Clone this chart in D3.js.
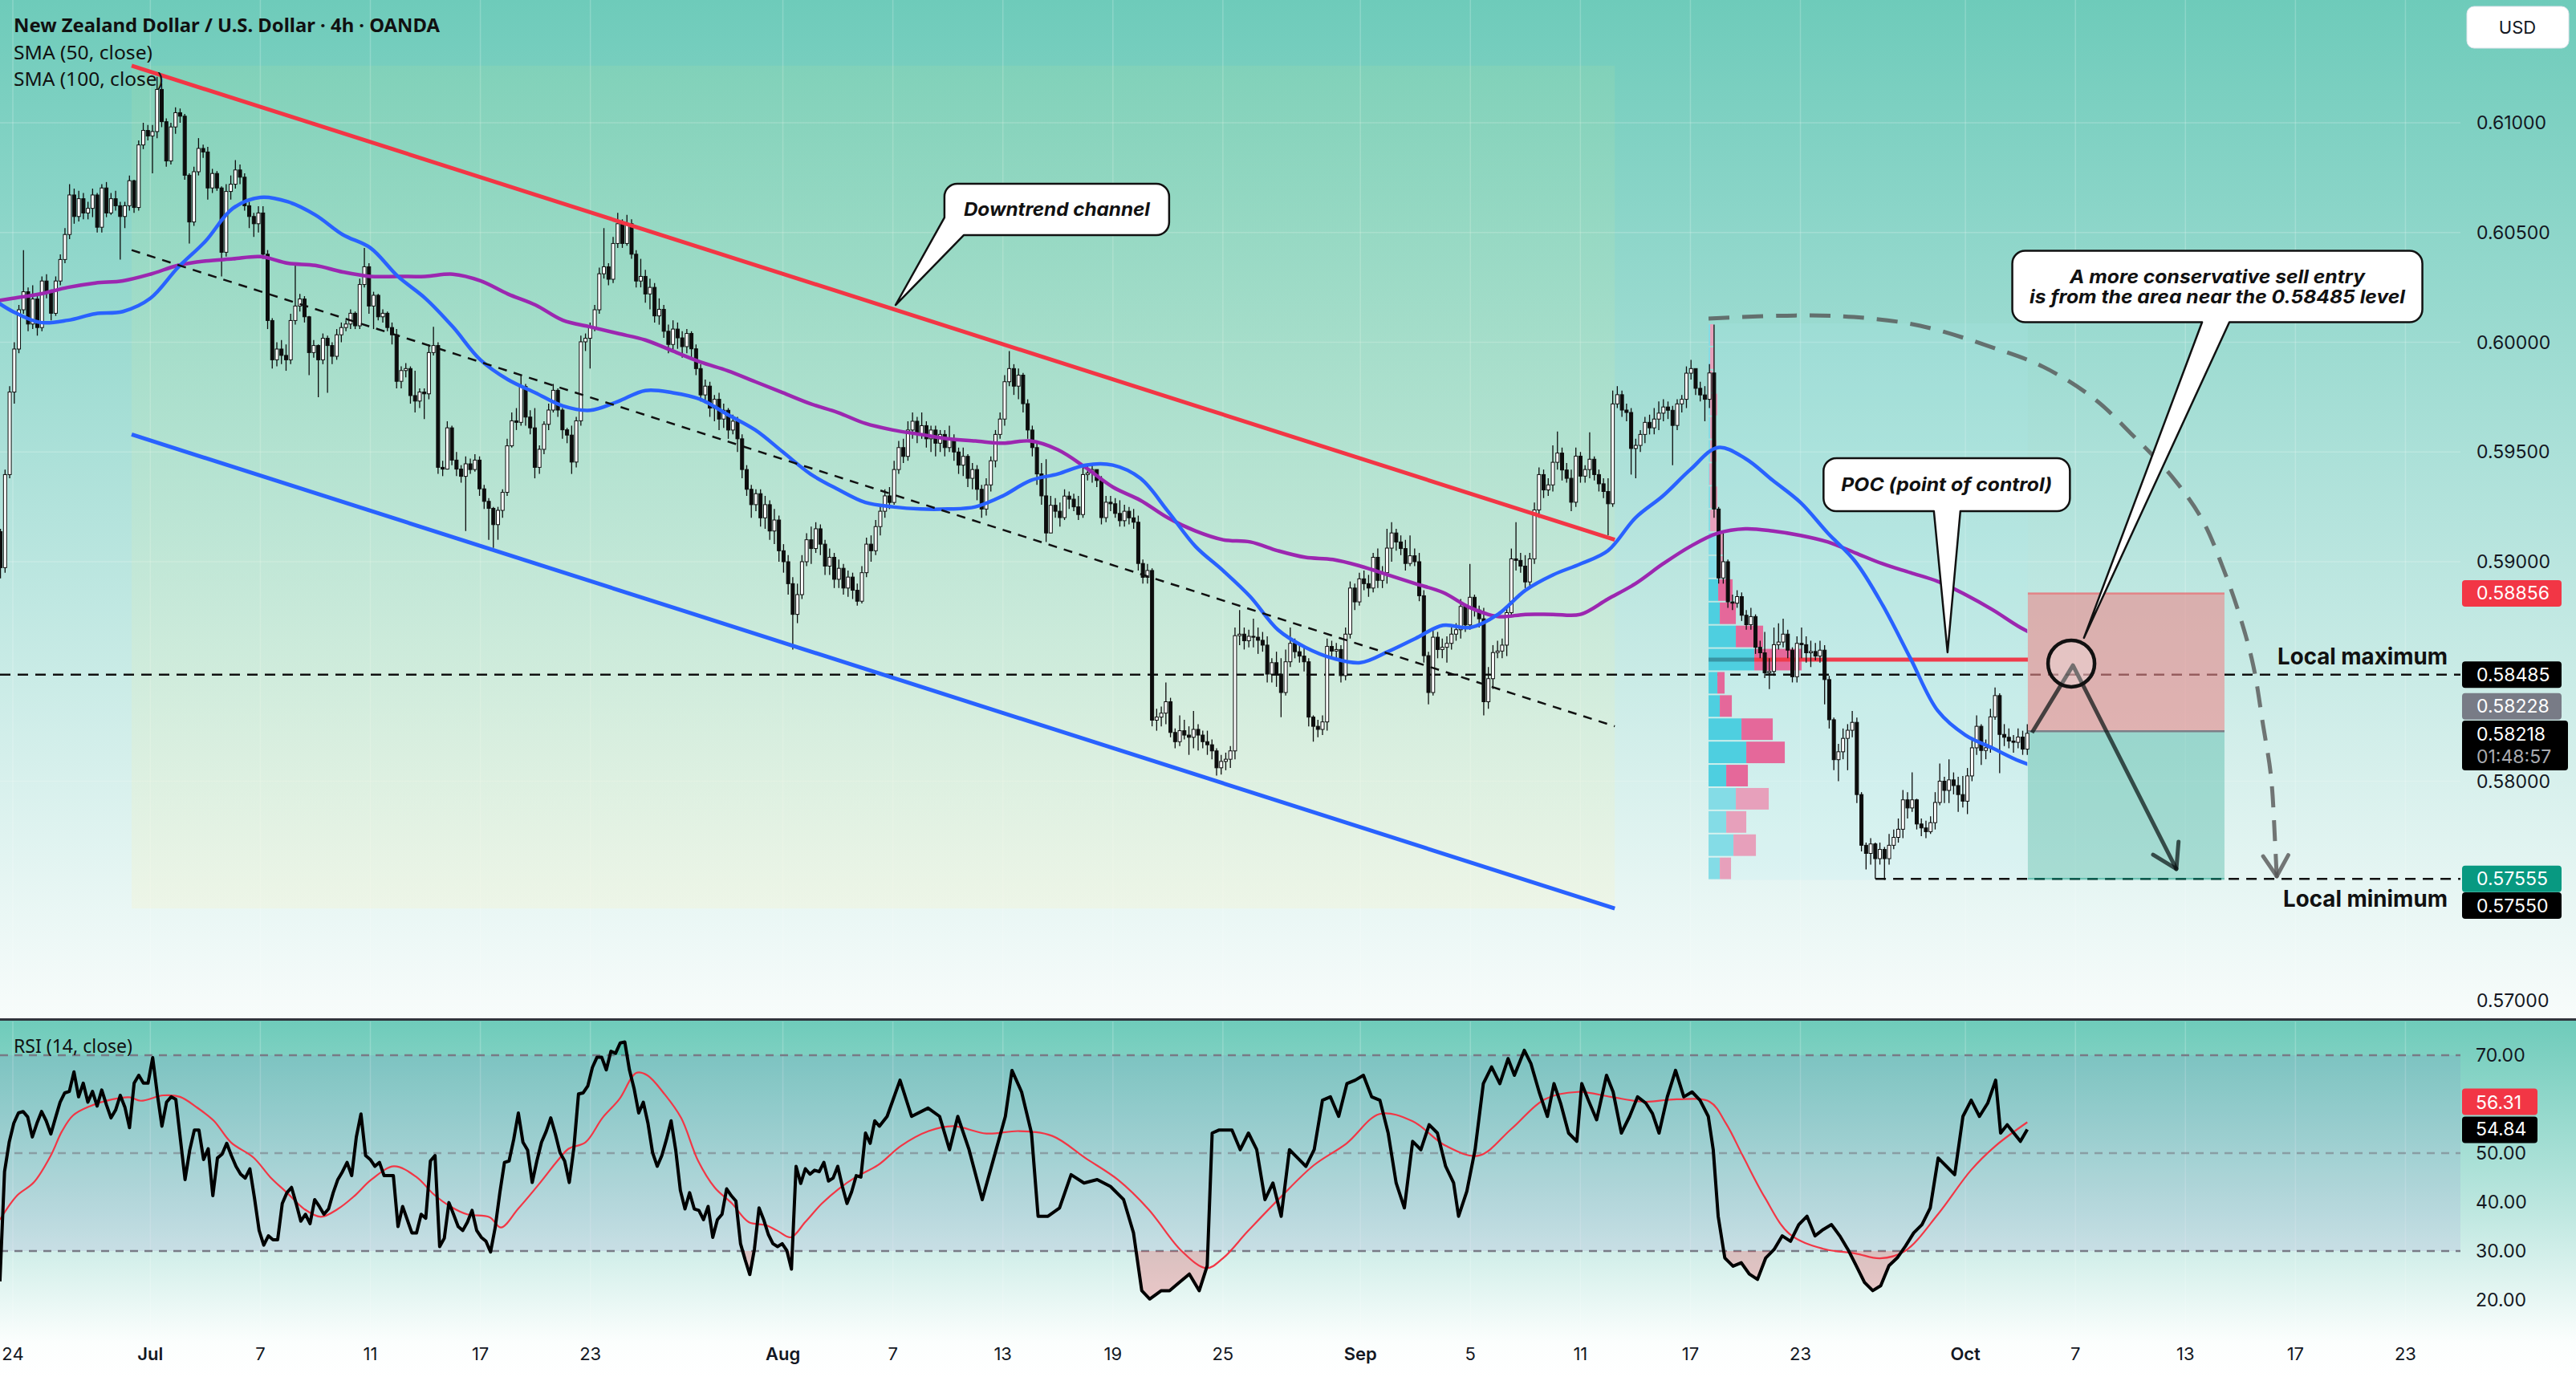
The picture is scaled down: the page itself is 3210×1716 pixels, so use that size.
<!DOCTYPE html>
<html>
<head>
<meta charset="utf-8">
<script src="https://d3js.org/d3.v7.min.js"></script>
<style>
  body { margin: 0; background: #ffffff; }
  svg { display: block; font-family: Inter, "Noto Sans", sans-serif; }
</style>
</head>
<body>
<div id="chart"><svg width="3210" height="1716"></svg></div>
<script>
// ---------- data ----------
// x unit = trading day counted from 24 Jun (4h bars, 6 per day)
var timeTickDays = [0, 5, 9, 13, 17, 21, 28, 32, 36, 40, 44, 49, 53, 57, 61, 65, 71, 75, 79, 83, 87];
var timeTickLabels = ["24", "Jul", "7", "11", "17", "23", "Aug", "7", "13", "19", "25", "Sep", "5", "11", "17", "23", "Oct", "7", "13", "17", "23"];
var monthLabels = ["Jul", "Aug", "Sep", "Oct"];
var priceTicks = [0.61, 0.605, 0.60, 0.595, 0.59, 0.58, 0.57];
var rsiTicks = [70, 50, 40, 30, 20];

// candles: [high, low, close] in 1e-5, open = previous close
var firstOpen = 59137;
var firstBarDay = -0.45, lastBarDay = 73.25;
var candles = [
[59150,58924,58973],[59420,58950,59397],[59800,59380,59773],[60000,59720,59969],[60170,59950,60148],[60420,60130,60230],[60250,60050,60083],[60260,60060,60197],[60210,60030,60067],[60300,60050,60279],
[60310,60200,60230],[60240,60100,60132],[60300,60120,60279],[60400,60260,60377],[60520,60360,60491],[60720,60470,60671],[60700,60540,60573],[60690,60550,60654],[60680,60560,60589],[60640,60560,60610],
[60700,60570,60671],[60680,60500,60524],[60720,60500,60703],[60730,60570,60589],[60680,60580,60654],[60690,60600,60622],[60640,60377,60573],[60640,60520,60622],[60760,60600,60736],[60740,60590,60614],
[60920,60600,60899],[61000,60880,60965],[60990,60920,60940],[60990,60770,60960],[61209,60930,61152],[61180,60980,61005],[61020,60800,60826],[61000,60810,60981],[61070,60950,61046],[61065,61000,61030],
[61040,60740,60761],[60770,60450,60548],[60800,60530,60777],[60930,60760,60883],[60900,60840,60867],[60890,60650,60703],[60790,60680,60769],[60780,60690,60703],[60710,60300,60410],[60720,60390,60687],
[60760,60650,60720],[60830,60700,60785],[60810,60720,60752],[60770,60600,60622],[60640,60520,60573],[60590,60480,60540],[60620,60500,60589],[60620,60380,60401],[60420,60060,60099],[60110,59880,59920],
[60000,59890,59969],[60010,59900,59940],[59990,59870,59920],[60130,59900,60099],[60350,60080,60165],[60220,60140,60197],[60210,60090,60116],[60120,59850,59953],[60010,59930,59985],[59990,59750,59920],
[60040,59900,60018],[60030,59770,59985],[60000,59900,59936],[60060,59920,60034],[60090,60000,60067],[60100,60050,60083],[60150,60060,60132],[60140,60060,60075],[60290,60060,60263],[60430,60250,60344],
[60360,60130,60165],[60230,60060,60214],[60220,60100,60116],[60150,60090,60132],[60140,60050,60067],[60090,59990,60034],[60060,59790,59822],[59890,59790,59871],[59905,59840,59880],[59890,59720,59757],
[59870,59680,59732],[59790,59700,59773],[59790,59650,59765],[59990,59740,59953],[60070,59940,59985],[60000,59400,59430],[59460,59390,59422],[59640,59420,59610],[59620,59440,59463],[59500,59390,59422],
[59440,59360,59389],[59480,59140,59446],[59470,59400,59420],[59490,59410,59463],[59480,59300,59332],[59350,59240,59275],[59290,59100,59243],[59250,59063,59169],[59250,59100,59234],[59330,59200,59316],
[59560,59300,59528],[59680,59520,59642],[59700,59600,59635],[59850,59620,59798],[59810,59620,59659],[59690,59580,59610],[59700,59380,59430],[59530,59400,59512],[59640,59490,59626],[59720,59600,59691],
[59810,59680,59781],[59790,59660,59691],[59700,59560,59601],[59610,59540,59577],[59620,59400,59454],[59660,59430,59642],[60030,59620,60002],[60040,59960,60018],[60090,59880,60067],[60170,60050,60148],
[60340,60130,60312],[60520,60290,60344],[60360,60260,60287],[60480,60270,60450],[60590,60430,60540],[60560,60430,60450],[60580,60440,60540],[60560,60380,60401],[60420,60250,60279],
[60380,60250,60300],[60330,60180,60220],[60290,60150,60250],[60270,60090,60120],[60200,60080,60150],[60170,60020,60050],[60080,59950,59990],[60100,59960,60060],[60090,59970,60020],[60050,59930,59980],
[60060,59950,60040],[60050,59920,59970],[59990,59850,59880],[59900,59730,59760],[59830,59720,59800],[59820,59660,59700],[59760,59640,59740],[59770,59600,59650],[59720,59610,59690],[59700,59560,59600],
[59670,59580,59640],[59660,59500,59560],[59580,59380,59420],[59440,59300,59330],[59350,59200,59260],[59330,59230,59310],[59330,59160,59200],[59300,59150,59260],[59280,59100,59140],[59240,59080,59190],
[59210,59000,59050],[59080,58950,59000],[59030,58850,58900],[58930,58600,58760],[58900,58720,58850],[59030,58830,59000],[59130,58980,59100],[59160,58990,59060],[59180,59040,59150],[59170,59030,59080],
[59100,58940,58980],[59060,58940,59020],[59040,58880,58920],[59010,58880,58970],[58990,58850,58880],[58960,58840,58930],[58950,58830,58870],[58900,58800,58820],[58980,58810,58950],[59110,58930,59080],
[59120,59000,59050],[59190,59030,59160],[59260,59120,59230],[59330,59200,59300],[59340,59240,59270],[59460,59260,59420],[59550,59400,59520],[59560,59450,59480],[59640,59460,59600],[59680,59560,59640],
[59660,59540,59580],[59680,59560,59620],[59640,59520,59560],[59620,59500,59600],[59620,59480,59540],[59600,59500,59580],[59600,59480,59520],[59620,59500,59560],[59580,59460,59500],[59520,59400,59440],
[59520,59390,59480],[59490,59340,59380],[59450,59330,59420],[59440,59280,59330],[59350,59200,59240],[59380,59210,59350],[59480,59320,59460],[59600,59430,59580],[59680,59560,59650],[59850,59620,59820],
[59960,59800,59880],[59900,59760,59800],[59880,59740,59850],[59860,59680,59720],[59740,59560,59600],[59620,59480,59520],[59540,59350,59400],[59450,59260,59300],
[59467,59090,59131],[59300,59180,59257],[59290,59200,59230],[59270,59160,59201],[59330,59190,59299],[59320,59240,59285],[59310,59230,59250],[59300,59190,59215],[59430,59200,59397],[59440,59370,59404],
[59450,59360,59420],[59420,59340,59370],[59390,59170,59201],[59300,59180,59271],[59300,59230,59264],[59290,59200,59220],[59280,59160,59187],[59260,59160,59230],[59250,59170,59200],[59240,59150,59180],
[59210,58960,58992],[59010,58900,58929],[58990,58900,58960],[58970,58250,58278],[58330,58230,58292],[58340,58250,58310],[58450,58260,58362],[58380,58200,58222],[58240,58150,58180],[58300,58160,58230],
[58280,58190,58210],[58250,58120,58200],[58320,58150,58236],[58260,58140,58210],[58230,58150,58180],[58230,58120,58166],[58190,58100,58138],[58150,58026,58061],[58120,58030,58090],[58130,58050,58100],
[58160,58060,58138],[58700,58100,58663],[58780,58620,58670],[58700,58600,58640],[58690,58610,58660],[58740,58610,58656],[58700,58580,58642],[58680,58590,58620],[58660,58450,58488],[58560,58450,58540],
[58590,58430,58488],[58560,58292,58404],[58600,58390,58544],[58700,58520,58628],[58650,58560,58590],[58620,58540,58570],[58620,58500,58544],[58560,58250,58292],[58300,58180,58250],[58280,58200,58236],
[58300,58210,58270],[58650,58230,58614],[58640,58560,58593],[58630,58550,58600],[58620,58450,58481],[58700,58460,58670],[58910,58650,58880],[58900,58780,58817],[58950,58800,58922],[58960,58870,58900],
[58940,58840,58880],[59040,58860,59020],[59060,58880,58915],[58980,58880,58950],[59150,58900,59062],[59180,59000,59131],[59150,59050,59090],[59120,59030,59060],[59100,58960,58992],[59120,58980,59027],
[59060,58980,59000],[59040,58820,58845],[58870,58540,58572],[58590,58350,58404],[58700,58390,58656],[58680,58560,58600],[58650,58560,58610],[58660,58540,58628],[58700,58600,58670],[58720,58640,58690],
[58830,58650,58796],[58810,58680,58712],[58990,58690,58838],[58850,58750,58780],[58800,58700,58740],[58790,58300,58362],[58520,58330,58467],[58620,58420,58586],[58640,58560,58593],[58650,58560,58620],
[58800,58570,58768],[59060,58750,59013],[59180,58960,59006],[59040,58950,58980],[59030,58880,58908],[59040,58880,59013],[59270,58990,59236],[59430,59200,59397],[59420,59290,59327],[59380,59300,59350],
[59530,59320,59453],[59593,59420,59495],[59520,59370,59418],[59450,59360,59380],[59420,59230,59271],[59520,59250,59481],[59500,59360,59390],[59440,59360,59420],[59590,59380,59467],[59480,59370,59397],
[59420,59320,59355],[59380,59290,59320],[59380,59120,59264],[59780,59250,59719],[59800,59700,59761],[59780,59660,59691],[59720,59640,59680],[59700,59397,59516],[59560,59380,59530],[59600,59500,59580],
[59660,59540,59635],[59670,59580,59610],[59700,59580,59650],[59730,59600,59677],[59740,59640,59705],[59730,59650,59690],[59710,59440,59621],[59740,59600,59719],[59760,59680,59740],[59890,59700,59859],
[59920,59830,59880],[59870,59760,59790],[59820,59730,59760],[59800,59640,59740],[59900,59700,59860],
[60080,59200,59240],
[59250,58900,58926],[59130,58900,59000],[59010,58790,58817],[58850,58780,58811],[58870,58790,58841],[58860,58730,58756],[58780,58690,58713],[58790,58690,58750],[58760,58580,58610],[58640,58560,58585],
[58680,58470,58494],[58560,58420,58500],[58700,58480,58622],[58719,58600,58634],[58740,58610,58670],[58690,58560,58597],[58610,58450,58476],[58660,58450,58628],[58700,58560,58622],[58660,58540,58585],
[58640,58520,58591],[58630,58550,58570],[58640,58540,58597],[58620,58350,58463],[58480,58240,58280],[58290,58050,58098],[58170,58000,58134],[58240,58100,58195],[58260,58050,58232],[58320,58200,58268],
[58290,57900,57939],[57950,57680,57708],[57720,57598,57671],[57740,57620,57714],[57720,57555,57647],[57720,57620,57689],[57700,57550,57647],[57760,57620,57708],[57780,57690,57744],[57830,57720,57781],
[57960,57740,57915],[57950,57830,57878],[58040,57860,57915],[57920,57780,57805],[57830,57750,57787],[57820,57740,57770],[57840,57760,57811],[57950,57780,57903],[58080,57890,58000],[58020,57900,57958],
[58100,57900,58006],[58040,57940,57980],[58020,57860,57939],[58024,57880,57909],[58060,57850,58024],[58200,58000,58152],[58300,58120,58250],[58260,58074,58140],[58190,58100,58152],[58330,58130,58293],
[58427,58280,58390],[58400,58037,58213],[58260,58160,58200],[58240,58150,58183],[58210,58130,58177],[58240,58150,58201],[58230,58120,58146],[58260,58120,58218]
];

// SMA values, one per trading day starting at day -1
var smaFirstDay = -1;
var sma50 = [0.6022,0.6014,0.6009,0.6010,0.6013,0.6014,0.6020,0.6034,0.6046,0.6061,0.6066,0.6064,0.6058,0.6049,0.6043,0.6030,0.6020,0.6007,0.5992,0.5983,
0.5977,0.5971,0.5969,0.5973,0.5978,0.5977,0.5974,0.5967,0.5960,0.5950,0.5940,0.5933,0.5927,0.5925,0.5924,0.5924,0.5925,0.5930,0.5937,0.5940,
0.5944,0.5944,0.5938,0.5923,0.5907,0.5896,0.5884,0.5869,0.5861,0.5856,0.5854,0.5859,0.5865,0.5871,0.5870,0.5876,0.5887,0.5894,0.5899,0.5905,
0.5920,0.5930,0.5942,0.5952,0.5947,0.5937,0.5927,0.5913,0.5900,0.5880,0.5856,0.5832,0.5821,0.5815,0.5809,0.5805];
var sma100 = [0.6018,0.6020,0.6022,0.6025,0.6027,0.6028,0.6031,0.6035,0.6037,0.6038,0.6039,0.6036,0.6035,0.6032,0.6030,0.6030,0.6030,0.6031,0.6028,0.6022,
0.6017,0.6010,0.6007,0.6004,0.6001,0.5996,0.5991,0.5987,0.5982,0.5977,0.5972,0.5968,0.5963,0.5960,0.5958,0.5956,0.5955,0.5954,0.5955,0.5951,
0.5943,0.5934,0.5928,0.5920,0.5914,0.5910,0.5909,0.5905,0.5902,0.5901,0.5898,0.5894,0.5890,0.5886,0.5879,0.5875,0.5876,0.5876,0.5876,0.5883,
0.5890,0.5899,0.5907,0.5913,0.5915,0.5914,0.5912,0.5909,0.5904,0.5899,0.5895,0.5891,0.5885,0.5878,0.5870,0.5864];

// RSI(14): first stretch one value per bar, evenly spaced between these days
var rsiAStart = -0.47, rsiAEnd = 31.51;
var rsiA = [23.8,46.2,52.2,56.1,58.2,58.5,57.4,53.3,56.1,58.5,56.6,53.9,57.2,60.4,62.3,62.6,66.6,61.5,64.3,60.4,
62.6,59.6,62.9,59.9,57.2,58.8,61.8,59.4,55.2,64.3,65.9,64.3,64.3,69.5,62.1,55.5,60.4,61.5,61.0,52.8,
44.6,50.6,54.7,54.7,48.7,50.9,41.3,49.0,49.8,52.0,49.5,47.3,45.7,44.9,46.8,40.8,34.2,31.2,33.1,32.3,
32.3,39.7,41.9,43.0,39.7,36.1,37.5,35.6,40.5,39.1,37.5,38.6,41.9,44.6,46.2,48.1,45.4,53.3,58.0,49.5,
48.7,47.3,48.1,45.4,45.4,45.4,35.0,39.1,36.4,33.7,33.7,37.5,36.7,48.4,49.5,30.9,32.6,39.9,37.5,35.0,
34.2,35.9,38.3,34.2,32.8,32.0,29.8,34.8,41.9,48.1,48.4,52.8,58.2,52.2,50.6,44.0,48.4,52.2,54.4,57.2,
53.9,50.1,48.4,44.0,51.1,62.1,62.3,63.7,67.5,69.6,69.6,67.0,70.8,70.4,72.5,72.7,67.0,63.2,58.2,60.4,
56.1,50.1,47.3,49.5,52.8,56.6,50.6,42.4,38.6,41.9,38.6,38.3,36.4,39.1,32.8,36.4,37.5,42.7,41.3,40.2,
31.5,28.2,25.2,30.4,38.8,36.4,33.4,31.5,30.9,31.5,30.1,26.3,47.3,43.8,46.8,45.7,46.5,46.2,48.1,44.3,
44.9,47.3,43.2,39.7,42.1,45.4,45.1,54.1,52.0,56.6,55.5];
// second stretch as [day, rsi]
var rsiB = [[31.79,57.5],[32.26,64.9],[32.68,57.5],[33.28,59.2],[33.70,57.5],[34.06,50.7],[34.36,57.5],[34.77,50.7],[35.25,40.5],[35.67,49.0],
[36.09,57.5],[36.33,66.9],[36.68,62.5],[37.04,54.1],[37.28,37.1],[37.64,37.1],[38.06,38.8],[38.48,45.6],[38.95,43.9],[39.43,44.6],
[39.91,43.2],[40.39,40.5],[40.75,33.7],[41.05,21.9],[41.34,20.2],[41.76,21.9],[42.06,21.9],[42.42,23.6],[42.78,25.3],[43.14,21.9],
[43.43,27.0],[43.61,54.1],[43.85,54.7],[44.33,54.7],[44.63,50.7],[44.93,54.1],[45.23,50.7],[45.53,40.5],[45.82,43.9],[46.12,37.1],
[46.42,50.7],[46.72,49.0],[47.02,47.3],[47.32,50.7],[47.62,60.8],[47.91,61.5],[48.21,57.5],[48.51,64.2],[48.81,64.9],[49.11,65.9],
[49.41,61.5],[49.71,60.8],[50.01,54.1],[50.30,43.9],[50.60,38.8],[50.90,52.4],[51.20,50.7],[51.50,55.8],[51.80,54.1],[52.10,47.3],
[52.39,43.9],[52.57,37.1],[52.87,42.2],[53.17,50.7],[53.47,64.2],[53.77,67.6],[54.07,64.2],[54.37,69.3],[54.60,65.9],[54.96,71.0],
[55.20,68.3],[55.50,62.5],[55.80,57.5],[56.04,64.2],[56.28,60.2],[56.57,54.1],[56.87,52.4],[57.05,64.2],[57.29,60.8],[57.59,56.8],
[57.95,65.9],[58.19,62.5],[58.49,54.1],[58.79,57.5],[59.08,61.5],[59.38,60.2],[59.62,58.1],[59.86,54.1],[60.16,61.5],[60.46,66.9],
[60.76,61.5],[61.06,62.5],[61.35,60.8],[61.65,57.5],[61.83,50.7],[62.01,37.1],[62.25,28.6],[62.55,26.9],[62.85,27.6],[63.14,25.3],
[63.44,24.2],[63.74,28.6],[64.04,30.3],[64.34,33.1],[64.64,32.0],[64.94,35.4],[65.24,37.1],[65.53,33.1],[65.83,34.4],[66.13,35.4],
[66.43,33.1],[66.73,30.3],[67.03,27.0],[67.33,23.6],[67.63,21.9],[67.92,22.9],[68.22,27.0],[68.52,28.6],[68.82,31.0],[69.12,33.7],
[69.42,35.4],[69.72,38.8],[70.01,49.0],[70.31,47.3],[70.61,45.6],[70.91,57.5],[71.21,60.8],[71.51,57.5],[71.81,60.2],[72.10,64.9],
[72.28,54.1],[72.52,55.8],[72.76,54.1],[73.00,52.4],[73.25,54.84]];
// RSI-based moving average as [day, value]
var rsiMA = [[-0.47,36.4],[0.15,41.3],[0.76,44.0],[1.38,49.5],[1.78,54.4],[2.19,57.7],[2.81,59.6],[3.63,61.0],[4.24,61.4],[4.65,60.7],
[5.47,61.8],[6.08,61.5],[6.70,59.3],[7.31,56.6],[7.93,52.2],[8.75,49.1],[9.36,45.1],[9.97,41.9],[10.59,38.6],[11.20,37.0],
[11.82,38.6],[12.43,41.3],[13.04,44.6],[13.86,47.3],[14.68,45.1],[15.30,41.6],[15.91,39.1],[16.52,37.5],[17.34,36.9],[17.75,34.8],
[18.37,38.6],[19.18,44.0],[19.80,48.4],[20.21,50.9],[20.82,52.2],[21.44,57.2],[22.05,61.0],[22.67,66.4],[23.07,65.9],[23.69,62.1],
[24.30,57.2],[24.92,48.4],[25.53,42.9],[26.15,39.7],[26.76,35.9],[27.37,35.3],[27.78,34.2],[28.29,32.8],[28.81,35.9],[29.42,39.7],
[30.03,42.7],[30.65,45.1],[31.47,47.6],[32.3,51.5],[33.3,54.5],[34.2,55.5],[35.4,54.0],[36.6,54.5],[37.8,53.5],[39.0,49.0],
[40.2,44.5],[41.3,38.5],[42.5,30.0],[43.4,26.5],[44.0,28.5],[44.9,34.0],[46.1,41.0],[47.3,47.5],[48.5,52.0],[49.7,58.0],
[50.9,56.5],[52.1,51.5],[53.3,49.5],[54.5,55.0],[55.7,61.0],[56.9,62.5],[58.1,61.5],[59.3,60.5],[60.5,61.0],[61.7,60.5],
[62.3,56.0],[62.9,49.5],[63.7,41.0],[64.6,33.5],[65.8,30.5],[67.0,29.5],[67.9,28.5],[68.8,30.0],[70.0,37.5],[71.2,46.5],
[72.1,51.5],[73.25,56.31]];

// drawings
var channelTop = [[4.32, 0.6126], [58.25, 0.5910]];
var channelBottom = [[4.32, 0.5958], [58.25, 0.5742]];
var channelMid = [[4.32, 0.6042], [58.25, 0.5825]];
var localMax = 0.58485, localMin = 0.57555, localMinStart = 67.73;
var posStart = 73.27, posEnd = 80.42, posEntry = 0.58228, posStop = 0.58856, posTarget = 0.57555;
var zigzag = [[73.42, 0.58221], [74.91, 0.58528], [78.67, 0.57600]];
var circleAt = [74.85, 0.58536];
var arcPts = [[61.66,0.60108],[64.81,0.60122],[66.94,0.60115],[69.36,0.60075],[71.99,0.59976],[73.83,0.59888],[75.69,0.59742],
[77.01,0.59585],[78.49,0.59391],[79.60,0.59194],[80.36,0.58974],[81.00,0.58744],[81.47,0.58525],[81.82,0.58258],[82.11,0.58024],
[82.26,0.57720],[82.32,0.57567]];

// fixed range volume profile, rows from bottom
var vpStart = 61.66, vpEnd = 73.27, vpLow = 0.5755, vpHigh = 0.60086;
var vpUp =   [14,31,22,34,22,47,41,14,11,57,34,14,12,15,11,2,2,1,2,2,2,1,2,2];
var vpDown = [14,28,25,41,27,48,39,15,9,59,34,20,18,4,8,8,9,6,8,6,9,4,5,4];
var vaLowRow = 4, vaHighRow = 12, pocRow = 9;

// ---------- drawing ----------
var svg = d3.select('#chart svg');
var defs = svg.append('defs');
var plotW = 3066;

var x = d3.scaleLinear().domain([0, 89]).range([16, 3066]);
var y = d3.scaleLinear().domain([0.57, 0.61]).range([1247, 153]);
var yr = d3.scaleLinear().domain([30, 70]).range([1559, 1315]);

function grad(id, stops) {
    var g = defs.append('linearGradient').attr('id', id)
        .attr('x1', 0).attr('y1', 0).attr('x2', 0).attr('y2', 1);
    stops.forEach(function(s) {
        g.append('stop').attr('offset', s[0]).attr('stop-color', s[1]);
    });
}
grad('bgMain', [[0, '#6ecbba'], [0.5, '#b3e3dc'], [1, '#f8fcfb']]);
grad('bgRsi', [[0, '#6ecbba'], [0.55, '#c0e8e1'], [0.9, '#fbfefd'], [1, '#ffffff']]);
grad('chanFill', [[0, 'rgba(200,232,150,0.12)'], [0.6, 'rgba(230,238,170,0.16)'], [1, 'rgba(250,240,190,0.24)']]);

defs.append('clipPath').attr('id', 'clipMain').append('rect')
    .attr('x', 0).attr('y', 0).attr('width', plotW).attr('height', 1268);
defs.append('clipPath').attr('id', 'clipRsi').append('rect')
    .attr('x', 0).attr('y', 1273).attr('width', plotW).attr('height', 390);
defs.append('clipPath').attr('id', 'clipSma').append('rect')
    .attr('x', 0).attr('y', 0).attr('width', x(lastBarDay)).attr('height', 1268);
defs.append('clipPath').attr('id', 'clipOS').append('rect')
    .attr('x', 0).attr('y', yr(30)).attr('width', plotW).attr('height', 1662 - yr(30));
defs.append('clipPath').attr('id', 'clipOB').append('rect')
    .attr('x', 0).attr('y', 1273).attr('width', plotW).attr('height', yr(70) - 1273);

// backgrounds
svg.append('rect').attr('width', 3210).attr('height', 1270).attr('fill', 'url(#bgMain)');
svg.append('rect').attr('y', 1270).attr('width', 3210).attr('height', 446).attr('fill', 'url(#bgRsi)');

// grid
var grid = svg.append('g').attr('stroke', 'rgba(255,255,255,0.2)').attr('stroke-width', 1.5);
timeTickDays.forEach(function(d) {
    grid.append('line').attr('x1', x(d)).attr('x2', x(d)).attr('y1', 0).attr('y2', 1268);
    grid.append('line').attr('x1', x(d)).attr('x2', x(d)).attr('y1', 1273).attr('y2', 1660);
});
priceTicks.forEach(function(p) {
    grid.append('line').attr('x1', 0).attr('x2', plotW).attr('y1', y(p)).attr('y2', y(p));
});

var gMain = svg.append('g').attr('clip-path', 'url(#clipMain)');

// channel background
gMain.append('rect')
    .attr('x', x(channelTop[0][0])).attr('width', x(channelTop[1][0]) - x(channelTop[0][0]))
    .attr('y', y(channelTop[0][1])).attr('height', y(channelBottom[1][1]) - y(channelTop[0][1]))
    .attr('fill', 'url(#chanFill)');

// volume profile range
gMain.append('rect')
    .attr('x', x(vpStart)).attr('width', x(vpEnd) - x(vpStart))
    .attr('y', y(vpHigh)).attr('height', y(vpLow) - y(vpHigh))
    .attr('fill', 'rgba(175,235,245,0.16)');

// dashed levels
gMain.append('line').attr('x1', 0).attr('x2', plotW).attr('y1', y(localMax)).attr('y2', y(localMax))
    .attr('stroke', '#111').attr('stroke-width', 2.5).attr('stroke-dasharray', '13 9');
gMain.append('line').attr('x1', x(localMinStart)).attr('x2', plotW).attr('y1', y(localMin)).attr('y2', y(localMin))
    .attr('stroke', '#111').attr('stroke-width', 2.5).attr('stroke-dasharray', '13 9');

// position box
gMain.append('rect').attr('x', x(posStart)).attr('width', x(posEnd) - x(posStart))
    .attr('y', y(posStop)).attr('height', y(posEntry) - y(posStop)).attr('fill', 'rgba(232,140,142,0.62)');
gMain.append('rect').attr('x', x(posStart)).attr('width', x(posEnd) - x(posStart))
    .attr('y', y(posEntry)).attr('height', y(posTarget) - y(posEntry)).attr('fill', 'rgba(8,153,129,0.28)');
[[posStop, 'rgba(242,80,90,0.55)'], [posEntry, '#7c7f88'], [posTarget, 'rgba(8,153,129,0.45)']].forEach(function(l) {
    gMain.append('line').attr('x1', x(posStart)).attr('x2', x(posEnd)).attr('y1', y(l[0])).attr('y2', y(l[0]))
        .attr('stroke', l[1]).attr('stroke-width', 2.5);
});

// volume profile rows
var rowH = (y(vpLow) - y(vpHigh)) / vpUp.length;
var vpTotal = vpUp.map(function(u, i) { return u + vpDown[i]; });
var vw = d3.scaleLinear().domain([0, d3.max(vpTotal)]).range([0, 116]);
var vpG = gMain.append('g');
vpUp.forEach(function(u, i) {
    var inVA = i >= vaLowRow && i <= vaHighRow;
    var top = y(vpLow) - (i + 1) * rowH + 1;
    vpG.append('rect').attr('x', x(vpStart)).attr('y', top).attr('width', vw(u)).attr('height', rowH - 2)
        .attr('fill', inVA ? '#4ecfe0' : '#84dce6');
    vpG.append('rect').attr('x', x(vpStart) + vw(u)).attr('y', top).attr('width', vw(vpDown[i])).attr('height', rowH - 2)
        .attr('fill', inVA ? '#e5689a' : '#e7a0bb');
});
var pocY = y(vpLow) - (pocRow + 0.5) * rowH;
gMain.append('line').attr('x1', x(vpStart)).attr('x2', x(vpStart) + vw(vpUp[pocRow])).attr('y1', pocY).attr('y2', pocY)
    .attr('stroke', 'rgba(40,100,115,0.55)').attr('stroke-width', 5);
gMain.append('line').attr('x1', x(vpStart) + vw(vpUp[pocRow])).attr('x2', x(vpEnd)).attr('y1', pocY).attr('y2', pocY)
    .attr('stroke', '#ef3b4b').attr('stroke-width', 5);

// candles
var bars = candles.map(function(c, i) {
    return {
        day: firstBarDay + i * (lastBarDay - firstBarDay) / (candles.length - 1),
        o: (i === 0 ? firstOpen : candles[i - 1][2]) / 1e5,
        h: c[0] / 1e5, l: c[1] / 1e5, c: c[2] / 1e5
    };
});
var cg = gMain.append('g');
cg.selectAll('line.wick').data(bars).enter().append('line').attr('class', 'wick')
    .attr('x1', function(d) { return x(d.day); }).attr('x2', function(d) { return x(d.day); })
    .attr('y1', function(d) { return y(Math.max(d.h, d.o, d.c)); })
    .attr('y2', function(d) { return y(Math.min(d.l, d.o, d.c)); })
    .attr('stroke', '#0d0d0d').attr('stroke-width', 1.3);
cg.selectAll('rect.body').data(bars).enter().append('rect').attr('class', 'body')
    .attr('x', function(d) { return x(d.day) - 2; }).attr('width', 4)
    .attr('y', function(d) { return y(Math.max(d.o, d.c)); })
    .attr('height', function(d) { return Math.max(1, Math.abs(y(d.o) - y(d.c))); })
    .attr('fill', function(d) { return d.c >= d.o ? '#ffffff' : '#0d0d0d'; })
    .attr('stroke', '#0d0d0d').attr('stroke-width', 1);

// SMA lines
var smaLine = d3.line().x(function(d) { return x(d[0]); }).y(function(d) { return y(d[1]); })
    .curve(d3.curveCatmullRom.alpha(0.5));
var smaG = gMain.append('g').attr('clip-path', 'url(#clipSma)');
smaG.append('path').datum(sma100.map(function(v, i) { return [smaFirstDay + i, v]; }))
    .attr('d', smaLine).attr('fill', 'none').attr('stroke', '#9c27b0').attr('stroke-width', 4.5);
smaG.append('path').datum(sma50.map(function(v, i) { return [smaFirstDay + i, v]; }))
    .attr('d', smaLine).attr('fill', 'none').attr('stroke', '#2962ff').attr('stroke-width', 4.5);

// channel lines
var pl = d3.line().x(function(d) { return x(d[0]); }).y(function(d) { return y(d[1]); });
gMain.append('path').datum(channelMid).attr('d', pl).attr('stroke', '#111').attr('stroke-width', 2.5)
    .attr('stroke-dasharray', '11 9').attr('fill', 'none');
gMain.append('path').datum(channelTop).attr('d', pl).attr('stroke', '#f23645').attr('stroke-width', 5).attr('fill', 'none');
gMain.append('path').datum(channelBottom).attr('d', pl).attr('stroke', '#2962ff').attr('stroke-width', 5).attr('fill', 'none');

function arrowHead(g, from, to, len, color, width) {
    var a = Math.atan2(to[1] - from[1], to[0] - from[0]);
    [0.55, -0.55].forEach(function(s) {
        g.append('line').attr('x1', to[0]).attr('y1', to[1])
            .attr('x2', to[0] + len * Math.cos(a + Math.PI + s)).attr('y2', to[1] + len * Math.sin(a + Math.PI + s))
            .attr('stroke', color).attr('stroke-width', width).attr('stroke-linecap', 'round');
    });
}

// zigzag arrow and circle
var zz = zigzag.map(function(p) { return [x(p[0]), y(p[1])]; });
gMain.append('path').attr('d', d3.line()(zz)).attr('fill', 'none')
    .attr('stroke', 'rgba(10,20,20,0.72)').attr('stroke-width', 5).attr('stroke-linejoin', 'round');
arrowHead(gMain, zz[1], zz[2], 34, 'rgba(10,20,20,0.72)', 5);
gMain.append('circle').attr('cx', x(circleAt[0])).attr('cy', y(circleAt[1])).attr('r', 29)
    .attr('fill', 'rgba(255,255,255,0.25)').attr('stroke', '#111').attr('stroke-width', 4.5);

// dashed arc
var ap = arcPts.map(function(p) { return [x(p[0]), y(p[1])]; });
svg.append('path').attr('d', d3.line().curve(d3.curveCatmullRom.alpha(0.5))(ap)).attr('fill', 'none')
    .attr('stroke', 'rgba(85,85,85,0.8)').attr('stroke-width', 5).attr('stroke-dasharray', '26 16');
arrowHead(svg, ap[ap.length - 2], ap[ap.length - 1], 30, 'rgba(85,85,85,0.8)', 5);

// callouts
function callout(cx, cy, w, h, tip, base, lines, widths) {
    var x0 = cx - w / 2, x1 = cx + w / 2, y0 = cy - h / 2, y1 = cy + h / 2, r = 16;
    var p = d3.path();
    p.moveTo(x0 + r, y0);
    p.lineTo(x1 - r, y0);
    p.arcTo(x1, y0, x1, y0 + r, r);
    p.lineTo(x1, y1 - r);
    p.arcTo(x1, y1, x1 - r, y1, r);
    if (base.corner) {
        p.lineTo(x0 + base.b, y1);
        p.lineTo(tip[0], tip[1]);
        p.lineTo(x0, y1 - base.a);
    } else {
        p.lineTo(cx + base.b, y1);
        p.lineTo(tip[0], tip[1]);
        p.lineTo(cx + base.a, y1);
        p.lineTo(x0 + r, y1);
        p.arcTo(x0, y1, x0, y1 - r, r);
    }
    p.lineTo(x0, y0 + r);
    p.arcTo(x0, y0, x0 + r, y0, r);
    p.closePath();
    svg.append('path').attr('d', p.toString()).attr('fill', '#ffffff')
        .attr('stroke', '#111').attr('stroke-width', 2.5).attr('stroke-linejoin', 'round');
    var lh = 25;
    lines.forEach(function(t, i) {
        svg.append('text').attr('x', cx).attr('y', cy + 8 + (i - (lines.length - 1) / 2) * lh)
            .attr('text-anchor', 'middle').attr('font-size', 23).attr('font-weight', 700)
            .attr('font-style', 'italic').attr('fill', '#111')
            .attr('textLength', widths[i]).attr('lengthAdjust', 'spacingAndGlyphs').text(t);
    });
}
callout(x(37.96), y(0.60605), 280, 64, [x(32.1), y(0.6017)], { corner: true, a: 22, b: 24 },
    ['Downtrend channel'], [232]);
callout(x(70.32), y(0.59351), 307, 66, [x(70.35), y(0.58587)], { a: -16, b: 17 },
    ['POC (point of control)'], [263]);
callout(x(80.16), y(0.60254), 511, 89, [x(75.31), y(0.58653)], { a: -19, b: 15 },
    ['A more conservative sell entry', 'is from the area near the 0.58485 level'], [368, 468]);

// level captions
svg.append('text').attr('x', 3050).attr('y', y(localMax) - 13).attr('text-anchor', 'end')
    .attr('font-size', 28).attr('font-weight', 700).attr('fill', '#111')
    .attr('textLength', 212).attr('lengthAdjust', 'spacingAndGlyphs').text('Local maximum');
svg.append('text').attr('x', 3050).attr('y', y(localMin) + 35).attr('text-anchor', 'end')
    .attr('font-size', 28).attr('font-weight', 700).attr('fill', '#111')
    .attr('textLength', 205).attr('lengthAdjust', 'spacingAndGlyphs').text('Local minimum');

// price axis
var fmt5 = d3.format('.5f');
priceTicks.forEach(function(p) {
    svg.append('text').attr('x', 3086).attr('y', y(p) + 8).attr('font-size', 23).attr('fill', '#131722').text(fmt5(p));
});
var priceBoxes = [
    { v: 0.58856, fill: '#f23645', shift: 0 },
    { v: 0.58485, fill: '#000000', shift: 0 },
    { v: 0.58228, fill: '#787b86', shift: -31 },
    { v: 0.57555, fill: '#089981', shift: 0 },
    { v: 0.57550, fill: '#000000', shift: 32 }
];
priceBoxes.forEach(function(b) {
    var cy = y(b.v) + b.shift;
    svg.append('rect').attr('x', 3068).attr('y', cy - 16.5).attr('width', 124).attr('height', 33).attr('rx', 4).attr('fill', b.fill);
    svg.append('text').attr('x', 3086).attr('y', cy + 8).attr('font-size', 23).attr('fill', '#ffffff').text(fmt5(b.v));
});
var lastClose = bars[bars.length - 1].c;
svg.append('rect').attr('x', 3068).attr('y', y(lastClose) - 16).attr('width', 132).attr('height', 62).attr('rx', 4).attr('fill', '#000');
svg.append('text').attr('x', 3086).attr('y', y(lastClose) + 9).attr('font-size', 23).attr('fill', '#ffffff').text(fmt5(lastClose));
svg.append('text').attr('x', 3086).attr('y', y(lastClose) + 37).attr('font-size', 23).attr('fill', '#a9abb0').text('01:48:57');

svg.append('rect').attr('x', 3074).attr('y', 8).attr('width', 127).attr('height', 52).attr('rx', 9)
    .attr('fill', '#ffffff').attr('stroke', '#e0e3eb');
svg.append('text').attr('x', 3137).attr('y', 42).attr('text-anchor', 'middle').attr('font-size', 22).attr('fill', '#131722').text('USD');

// header
svg.append('text').attr('x', 17).attr('y', 40).attr('font-size', 23).attr('font-weight', 700).attr('fill', '#111')
    .attr('font-family', '"Noto Sans", sans-serif')
    .attr('textLength', 531).attr('lengthAdjust', 'spacingAndGlyphs')
    .text('New Zealand Dollar / U.S. Dollar \u00b7 4h \u00b7 OANDA');
svg.append('text').attr('x', 17).attr('y', 74).attr('font-size', 23).attr('fill', '#111')
    .attr('font-family', '"Noto Sans", sans-serif')
    .attr('textLength', 173).attr('lengthAdjust', 'spacingAndGlyphs').text('SMA (50, close)');
svg.append('text').attr('x', 17).attr('y', 107).attr('font-size', 23).attr('fill', '#111')
    .attr('font-family', '"Noto Sans", sans-serif')
    .attr('textLength', 186).attr('lengthAdjust', 'spacingAndGlyphs').text('SMA (100, close)');

// pane separator
svg.append('line').attr('x1', 0).attr('x2', 3210).attr('y1', 1270.5).attr('y2', 1270.5)
    .attr('stroke', '#30343c').attr('stroke-width', 3);

// ---------- RSI pane ----------
var gR = svg.append('g').attr('clip-path', 'url(#clipRsi)');
gR.append('rect').attr('x', 0).attr('width', plotW).attr('y', yr(70)).attr('height', yr(30) - yr(70))
    .attr('fill', 'rgba(126,87,194,0.10)');
[[70, 'rgba(120,123,134,1)'], [50, 'rgba(120,123,134,0.6)'], [30, 'rgba(120,123,134,1)']].forEach(function(l) {
    gR.append('line').attr('x1', 0).attr('x2', plotW).attr('y1', yr(l[0])).attr('y2', yr(l[0]))
        .attr('stroke', l[1]).attr('stroke-width', 2.5).attr('stroke-dasharray', '10 8');
});
var rsiPts = rsiA.map(function(v, i) {
    return [rsiAStart + i * (rsiAEnd - rsiAStart) / (rsiA.length - 1), v];
}).concat(rsiB);
var areaOS = d3.area().x(function(d) { return x(d[0]); }).y0(yr(30)).y1(function(d) { return yr(d[1]); });
var areaOB = d3.area().x(function(d) { return x(d[0]); }).y0(yr(70)).y1(function(d) { return yr(d[1]); });
gR.append('path').datum(rsiPts).attr('d', areaOS).attr('fill', 'rgba(242,54,69,0.25)').attr('clip-path', 'url(#clipOS)');
gR.append('path').datum(rsiPts).attr('d', areaOB).attr('fill', 'rgba(8,153,129,0.3)').attr('clip-path', 'url(#clipOB)');
var rl = d3.line().x(function(d) { return x(d[0]); }).y(function(d) { return yr(d[1]); });
gR.append('path').datum(rsiMA).attr('d', rl.curve(d3.curveCatmullRom.alpha(0.5))).attr('fill', 'none')
    .attr('stroke', '#f23645').attr('stroke-width', 2.2);
gR.append('path').datum(rsiPts).attr('d', d3.line().x(function(d) { return x(d[0]); }).y(function(d) { return yr(d[1]); }))
    .attr('fill', 'none').attr('stroke', '#000').attr('stroke-width', 4).attr('stroke-linejoin', 'round');

svg.append('text').attr('x', 17).attr('y', 1312).attr('font-size', 23).attr('fill', '#111')
    .attr('font-family', '"Noto Sans", sans-serif')
    .attr('textLength', 148).attr('lengthAdjust', 'spacingAndGlyphs').text('RSI (14, close)');

var fmt2 = d3.format('.2f');
rsiTicks.forEach(function(t) {
    svg.append('text').attr('x', 3085).attr('y', yr(t) + 8).attr('font-size', 23).attr('fill', '#131722').text(fmt2(t));
});
var lastRsi = rsiB[rsiB.length - 1][1], lastMA = rsiMA[rsiMA.length - 1][1];
svg.append('rect').attr('x', 3068).attr('y', yr(lastMA) - 42).attr('width', 94).attr('height', 33).attr('rx', 4).attr('fill', '#f23645');
svg.append('text').attr('x', 3085).attr('y', yr(lastMA) - 17).attr('font-size', 23).attr('fill', '#fff').text(fmt2(lastMA));
svg.append('rect').attr('x', 3068).attr('y', yr(lastRsi) - 16).attr('width', 94).attr('height', 33).attr('rx', 4).attr('fill', '#000');
svg.append('text').attr('x', 3085).attr('y', yr(lastRsi) + 8).attr('font-size', 23).attr('fill', '#fff').text(fmt2(lastRsi));

// ---------- time axis ----------
timeTickDays.forEach(function(d, i) {
    var lab = timeTickLabels[i];
    svg.append('text').attr('x', x(d)).attr('y', 1695).attr('text-anchor', 'middle')
        .attr('font-size', 22).attr('fill', '#131722')
        .attr('font-weight', monthLabels.indexOf(lab) >= 0 ? 600 : 400).text(lab);
});
</script>
</body>
</html>
